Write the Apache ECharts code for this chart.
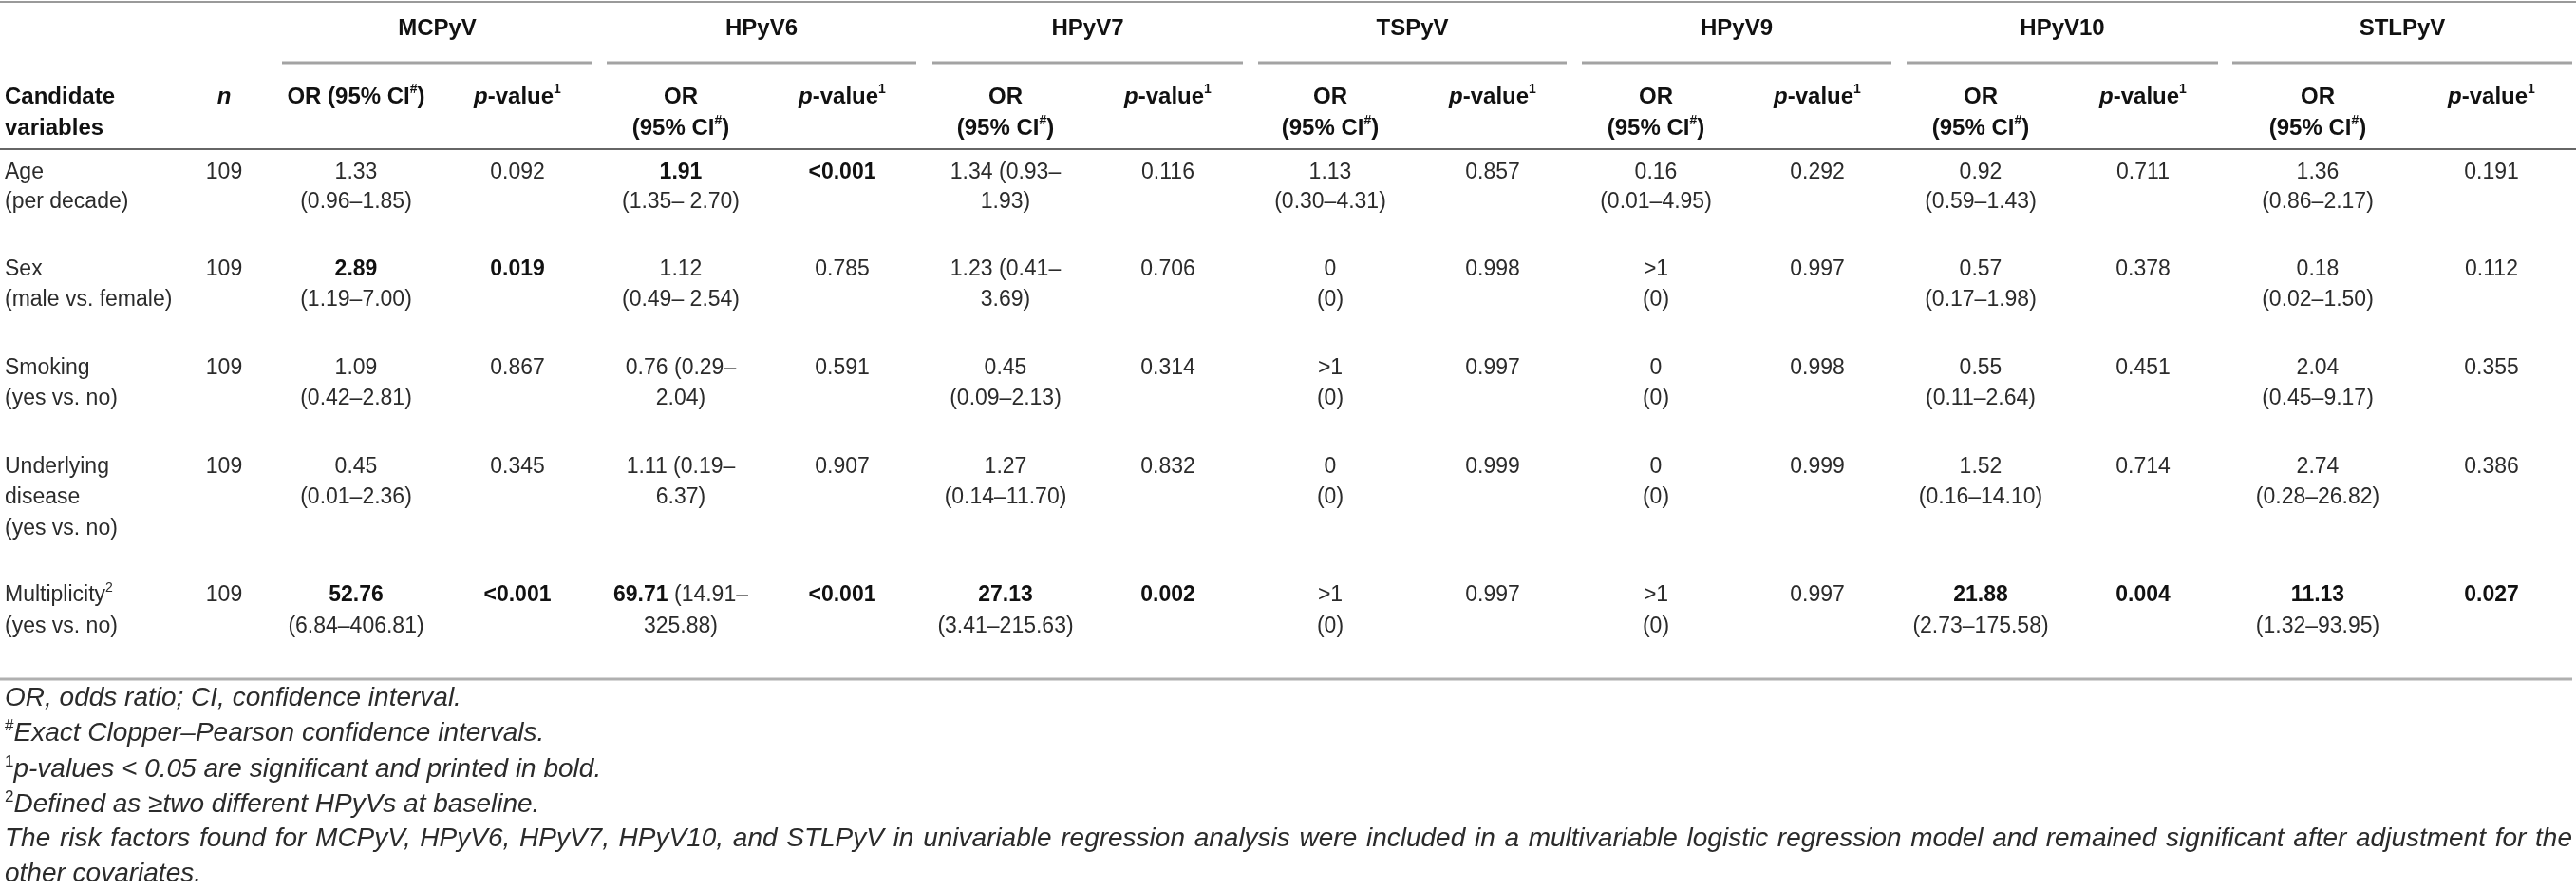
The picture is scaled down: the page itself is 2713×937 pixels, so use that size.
<!DOCTYPE html>
<html>
<head>
<meta charset="utf-8">
<script src="https://cdn.jsdelivr.net/npm/echarts@6/dist/echarts.min.js"></script>
<style>
  html, body { margin: 0; padding: 0; background: #fff; }
  #main { width: 2713px; height: 937px; }
</style>
</head>
<body>
<div id="main"></div>
<script>
var FONT = "'Liberation Sans', Arial, Helvetica, sans-serif";
var W = 2713, H = 937;

// ---- table data ----
var viruses = ['MCPyV', 'HPyV6', 'HPyV7', 'TSPyV', 'HPyV9', 'HPyV10', 'STLPyV'];
var variables = [
    ['Age', '(per decade)'],
    ['Sex', '(male vs. female)'],
    ['Smoking', '(yes vs. no)'],
    ['Underlying', 'disease', '(yes vs. no)'],
    ['Multiplicity', '(yes vs. no)']
];
var variableSup = ['', '', '', '', '2'];
var nValues = [109, 109, 109, 109, 109];

// rows: Age, Sex, Smoking, Underlying disease, Multiplicity
var orValues = [
    ['1.33', '2.89', '1.09', '0.45', '52.76'],
    ['1.91', '1.12', '0.76', '1.11', '69.71'],
    ['1.34', '1.23', '0.45', '1.27', '27.13'],
    ['1.13', '0', '>1', '0', '>1'],
    ['0.16', '>1', '0', '0', '>1'],
    ['0.92', '0.57', '0.55', '1.52', '21.88'],
    ['1.36', '0.18', '2.04', '2.74', '11.13']
];
var ciValues = [
    ['(0.96–1.85)', '(1.19–7.00)', '(0.42–2.81)', '(0.01–2.36)', '(6.84–406.81)'],
    ['(1.35– 2.70)', '(0.49– 2.54)', '(0.29–2.04)', '(0.19–6.37)', '(14.91–325.88)'],
    ['(0.93–1.93)', '(0.41–3.69)', '(0.09–2.13)', '(0.14–11.70)', '(3.41–215.63)'],
    ['(0.30–4.31)', '(0)', '(0)', '(0)', '(0)'],
    ['(0.01–4.95)', '(0)', '(0)', '(0)', '(0)'],
    ['(0.59–1.43)', '(0.17–1.98)', '(0.11–2.64)', '(0.16–14.10)', '(2.73–175.58)'],
    ['(0.86–2.17)', '(0.02–1.50)', '(0.45–9.17)', '(0.28–26.82)', '(1.32–93.95)']
];
var pValues = [
    ['0.092', '0.019', '0.867', '0.345', '<0.001'],
    ['<0.001', '0.785', '0.591', '0.907', '<0.001'],
    ['0.116', '0.706', '0.314', '0.832', '0.002'],
    ['0.857', '0.998', '0.997', '0.999', '0.997'],
    ['0.292', '0.997', '0.998', '0.999', '0.997'],
    ['0.711', '0.378', '0.451', '0.714', '0.004'],
    ['0.191', '0.112', '0.355', '0.386', '0.027']
];
// cells where the CI starts on the OR line: [virus, row]
var inlineCI = [[1, 2], [1, 3], [1, 4], [2, 0], [2, 1]];

var noteMarks = ['', '#', '1', '2', '', ''];
var noteTexts = [
    'OR, odds ratio; CI, confidence interval.',
    'Exact Clopper–Pearson confidence intervals.',
    'p-values < 0.05 are significant and printed in bold.',
    'Defined as ≥two different HPyVs at baseline.',
    'The risk factors found for MCPyV, HPyV6, HPyV7, HPyV10, and STLPyV in univariable regression analysis were included in a multivariable logistic regression model and remained significant after adjustment for the',
    'other covariates.'
];

// ---- layout (pixel space of the value axes) ----
var varX = 5, nX = 236;
var orX = [375, 717, 1059, 1401, 1744, 2086, 2441];
var pX = [545, 887, 1230, 1572, 1914, 2257, 2624];
var groupLine = [[297, 624], [639, 965], [982, 1309], [1325, 1650], [1666, 1992], [2008, 2336], [2351, 2709]];
var groupY = 30, subY = [102, 135];
var rowY = [[182, 213], [284, 316], [388, 420], [492, 524, 557], [627, 660]];
var noteY = [735, 772, 810, 847, 883, 920];
var noteRight = 2709;
var NOTE_SIZE = 28;

var rich = {
    r: { fontFamily: FONT, fontSize: 23, fill: '#2b2b2b', lineHeight: 30 },
    b: { fontFamily: FONT, fontSize: 23, fontWeight: 'bold', fill: '#111', lineHeight: 30 },
    h: { fontFamily: FONT, fontSize: 24, fontWeight: 'bold', fill: '#111', lineHeight: 30 },
    hi: { fontFamily: FONT, fontSize: 24, fontWeight: 'bold', fontStyle: 'italic', fill: '#111', lineHeight: 30 },
    sup: { fontFamily: FONT, fontSize: 14, fontWeight: 'bold', fill: '#111', lineHeight: 14, verticalAlign: 'top' },
    rsup: { fontFamily: FONT, fontSize: 14, fill: '#2b2b2b', lineHeight: 14, verticalAlign: 'top' },
    it: { fontFamily: FONT, fontSize: NOTE_SIZE, fontStyle: 'italic', fill: '#2b2b2b', lineHeight: 32 },
    isup: { fontFamily: FONT, fontSize: 17, fill: '#2b2b2b', lineHeight: 17, verticalAlign: 'top' }
};

function isSig(p) {
    return p.charAt(0) === '<' || parseFloat(p) < 0.05;
}
function isInline(v, r) {
    return inlineCI.some(function (c) { return c[0] === v && c[1] === r; });
}

var cells = [];
function cell(x, y, text, align) {
    cells.push({ value: [x, y], text: text, align: align || 'center' });
}

// header
cell(varX, subY[0], '{h|Candidate}', 'left');
cell(varX, subY[1], '{h|variables}', 'left');
cell(nX, subY[0], '{hi|n}');
viruses.forEach(function (name, v) {
    cell((groupLine[v][0] + groupLine[v][1]) / 2, groupY, '{h|' + name + '}');
    if (v === 0) {
        cell(orX[v], subY[0], '{h|OR (95% CI}{sup|#}{h|)}');
    } else {
        cell(orX[v], subY[0], '{h|OR}');
        cell(orX[v], subY[1], '{h|(95% CI}{sup|#}{h|)}');
    }
    cell(pX[v], subY[0], '{hi|p}{h|-value}{sup|1}');
});

// body
variables.forEach(function (lines, r) {
    lines.forEach(function (t, k) {
        var s = '{r|' + t + '}';
        if (k === 0 && variableSup[r]) s += '{rsup|' + variableSup[r] + '}';
        cell(varX, rowY[r][k], s, 'left');
    });
    cell(nX, rowY[r][0], '{r|' + nValues[r] + '}');
    viruses.forEach(function (name, v) {
        var p = pValues[v][r];
        var sig = isSig(p);
        var orTxt = sig ? '{b|' + orValues[v][r] + '}' : '{r|' + orValues[v][r] + '}';
        var ci = ciValues[v][r];
        if (isInline(v, r)) {
            var cut = ci.indexOf('–') + 1;
            cell(orX[v], rowY[r][0], orTxt + '{r| ' + ci.slice(0, cut) + '}');
            cell(orX[v], rowY[r][1], '{r|' + ci.slice(cut) + '}');
        } else {
            cell(orX[v], rowY[r][0], orTxt);
            cell(orX[v], rowY[r][1], '{r|' + ci + '}');
        }
        cell(pX[v], rowY[r][0], sig ? '{b|' + p + '}' : '{r|' + p + '}');
    });
});

// footnotes; the long line is justified to the table width
var ctx = document.createElement('canvas').getContext('2d');
ctx.font = 'italic ' + NOTE_SIZE + 'px ' + FONT;
noteTexts.forEach(function (t, i) {
    var pre = noteMarks[i] ? '{isup|' + noteMarks[i] + '}' : '';
    if (i !== 4) {
        cell(varX, noteY[i], pre + '{it|' + t + '}', 'left');
        return;
    }
    var words = t.split(' ');
    var widths = words.map(function (w) { return ctx.measureText(w).width; });
    var total = widths.reduce(function (a, b) { return a + b; }, 0);
    var gap = (noteRight - varX - total) / (words.length - 1);
    var x = varX;
    words.forEach(function (w, k) {
        cell(x, noteY[i], '{it|' + w + '}', 'left');
        x += widths[k] + gap;
    });
});

// horizontal rules: [x1, x2, y, width, color]
var rules = [[0, W, 2, 2, '#9a9a9a'], [0, W, 157, 2, '#666'], [0, 2709, 715, 3, '#b0b0b0']];
groupLine.forEach(function (g) { rules.push([g[0], g[1], 66, 3, '#a3a3a3']); });

var chart = echarts.init(document.getElementById('main'), null, { renderer: 'canvas' });
chart.setOption({
    backgroundColor: '#fff',
    animation: false,
    grid: { left: 0, right: 0, top: 0, bottom: 0 },
    xAxis: { type: 'value', min: 0, max: W, show: false },
    yAxis: { type: 'value', min: 0, max: H, inverse: true, show: false },
    series: [
        {
            type: 'custom',
            silent: true,
            data: rules.map(function (r) { return [r[0], r[2], r[1]]; }),
            renderItem: function (params, api) {
                var r = rules[params.dataIndex];
                var a = api.coord([api.value(0), api.value(1)]);
                var b = api.coord([api.value(2), api.value(1)]);
                return {
                    type: 'line',
                    shape: { x1: a[0], y1: a[1], x2: b[0], y2: b[1] },
                    style: { stroke: r[4], lineWidth: r[3] }
                };
            }
        },
        {
            type: 'custom',
            silent: true,
            data: cells.map(function (c) { return c.value; }),
            renderItem: function (params, api) {
                var c = cells[params.dataIndex];
                var pt = api.coord([api.value(0), api.value(1)]);
                return {
                    type: 'text',
                    x: pt[0],
                    y: pt[1],
                    style: {
                        text: c.text,
                        rich: rich,
                        align: c.align,
                        verticalAlign: 'middle',
                        fontFamily: FONT,
                        fontSize: 23,
                        fill: '#2b2b2b'
                    }
                };
            }
        }
    ]
});
</script>
</body>
</html>
